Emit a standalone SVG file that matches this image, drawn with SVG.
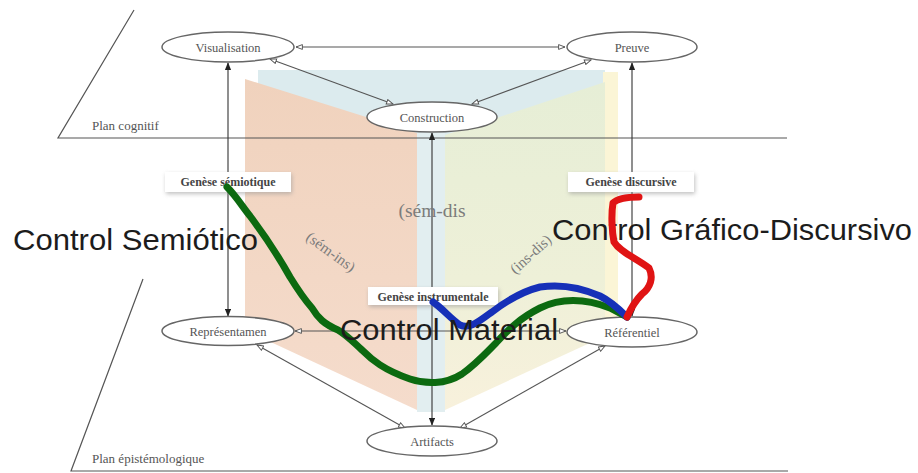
<svg xmlns="http://www.w3.org/2000/svg" width="918" height="473" viewBox="0 0 918 473">
  <defs>
    <marker id="open" viewBox="0 0 10 8" refX="9" refY="4" markerWidth="8" markerHeight="6.4" markerUnits="userSpaceOnUse" orient="auto-start-reverse">
      <path d="M1,1 L9,4 L1,7 Z" fill="#fff" stroke="#555" stroke-width="1.2"/>
    </marker>
    <marker id="solid" viewBox="0 0 10 8" refX="9" refY="4" markerWidth="8" markerHeight="6.4" markerUnits="userSpaceOnUse" orient="auto-start-reverse">
      <path d="M0,0 L10,4 L0,8 Z" fill="#222"/>
    </marker>
    <linearGradient id="greenPlane" x1="0" y1="0" x2="0" y2="1">
      <stop offset="0" stop-color="#e6eed6"/>
      <stop offset="0.6" stop-color="#eef0d8"/>
      <stop offset="1" stop-color="#f8f1dc"/>
    </linearGradient>
    <linearGradient id="peachPlane" x1="0" y1="0" x2="0" y2="1">
      <stop offset="0" stop-color="#f0d2bd"/>
      <stop offset="1" stop-color="#f5dccc"/>
    </linearGradient>
    <filter id="shadow" x="-20%" y="-40%" width="140%" height="180%">
      <feGaussianBlur stdDeviation="2"/>
    </filter>
    <style>
      .plane-line { stroke: #555; stroke-width: 1.2; fill: none; }
      .edge { stroke: #555; stroke-width: 1.1; fill: none; }
      .edge-open { marker-start: url(#open); marker-end: url(#open); }
      .edge-solid { marker-start: url(#solid); marker-end: url(#solid); stroke: #333; }
      .node ellipse { fill: #fff; stroke: #666; stroke-width: 1.5; }
      .node text { font-family: "Liberation Serif", serif; font-size: 12.5px; fill: #555; text-anchor: middle; }
      .plan { font-family: "Liberation Serif", serif; font-size: 13px; fill: #555; }
      .genese rect.box { fill: #fff; }
      .genese rect.shade { fill: #999; opacity: 0.6; filter: url(#shadow); }
      .genese text { font-family: "Liberation Serif", serif; font-size: 12px; font-weight: bold; fill: #444; text-anchor: middle; }
      .pair { font-family: "Liberation Serif", serif; fill: #7c7c7c; text-anchor: middle; }
      .control { font-family: "Liberation Sans", Arial, sans-serif; font-size: 29px; fill: #1c1c1c; }
      .stroke-path { fill: none; stroke-width: 7; stroke-linecap: round; stroke-linejoin: round; }
    </style>
  </defs>

  <rect width="918" height="473" fill="#fff"/>

  <!-- background planes -->
  <g id="planes">
    <rect x="258" y="70" width="347" height="72" fill="#dcebee"/>
    <rect x="417" y="130" width="28" height="282" fill="#e2eef0"/>
    <rect x="603" y="72" width="15" height="250" fill="#fbf5d6"/>
    <polygon points="245,79 417,133 417,410 245,330" fill="url(#peachPlane)"/>
    <polygon points="445,135 605,82 605,336 445,410" fill="url(#greenPlane)"/>
  </g>

  <!-- plane outlines -->
  <g id="plan-lines">
    <polyline class="plane-line" points="134,10 58,138 787,138"/>
    <polyline class="plane-line" points="143,279 71,471 788,471"/>
    <text class="plan" x="92" y="130">Plan cognitif</text>
    <text class="plan" x="92" y="463">Plan épistémologique</text>
  </g>

  <!-- connectors -->
  <g id="connectors">
    <line class="edge edge-open" x1="296" y1="47" x2="565" y2="47"/>
    <line class="edge edge-open" x1="270" y1="59" x2="393" y2="104"/>
    <line class="edge edge-open" x1="591" y1="60" x2="472" y2="104"/>
    <line class="edge edge-open" x1="295" y1="331" x2="566" y2="331"/>
    <line class="edge edge-open" x1="257" y1="345" x2="405" y2="428"/>
    <line class="edge edge-open" x1="605" y1="346" x2="460" y2="428"/>
    <line class="edge edge-solid" x1="228" y1="63" x2="228" y2="316"/>
    <line class="edge edge-solid" x1="632" y1="63" x2="632" y2="316"/>
    <line class="edge edge-solid" x1="432" y1="133" x2="432" y2="425"/>
  </g>

  <!-- nodes -->
  <g id="visualisation" class="node">
    <ellipse cx="228" cy="47" rx="66" ry="15"/>
    <text x="228" y="51.5">Visualisation</text>
  </g>
  <g id="preuve" class="node">
    <ellipse cx="632" cy="47" rx="65" ry="15"/>
    <text x="632" y="51.5">Preuve</text>
  </g>
  <g id="construction" class="node">
    <ellipse cx="432" cy="117" rx="65" ry="15"/>
    <text x="432" y="121.5">Construction</text>
  </g>
  <g id="representamen" class="node">
    <ellipse cx="228" cy="331" rx="66" ry="14.5"/>
    <text x="228" y="335.5">Représentamen</text>
  </g>
  <g id="referentiel" class="node">
    <ellipse cx="632" cy="332" rx="65" ry="15"/>
    <text x="632" y="336.5">Référentiel</text>
  </g>
  <g id="artifacts" class="node">
    <ellipse cx="432" cy="441" rx="65" ry="15"/>
    <text x="432" y="445.5">Artifacts</text>
  </g>

  <!-- genesis labels -->
  <g id="genese-semiotique" class="genese">
    <rect class="shade" x="166" y="174" width="126" height="20"/>
    <rect class="box" x="165" y="172" width="126" height="20"/>
    <text x="228" y="186">Genèse sémiotique</text>
  </g>
  <g id="genese-discursive" class="genese">
    <rect class="shade" x="569" y="174" width="126" height="20"/>
    <rect class="box" x="568" y="172" width="126" height="20"/>
    <text x="631" y="186">Genèse discursive</text>
  </g>
  <g id="genese-instrumentale" class="genese">
    <rect class="shade" x="369" y="289" width="130" height="18"/>
    <rect class="box" x="368" y="287" width="130" height="18"/>
    <text x="433" y="300.5">Genèse instrumentale</text>
  </g>

  <!-- plane pair labels -->
  <g id="pair-labels">
    <text class="pair" x="432" y="217" font-size="19.5">(sém-dis</text>
    <text class="pair" x="0" y="0" font-size="15" transform="translate(328,256) rotate(36)">(sém-ins)</text>
    <text class="pair" x="0" y="0" font-size="15" transform="translate(534,258) rotate(-42)">(ins-dis)</text>
  </g>

  <!-- control paths -->
  <g id="control-paths">
    <path class="stroke-path" stroke="#0c6a10" d="M227,187 C236,196 242,206 250,216 C262,232 276,252 290,277 C298,290 305,300 312,308 C318,318 324,324 338,330 C348,336 354,343 362,350 C372,360 384,370 410,379 C425,384 445,385 462,374 C476,364 484,355 496,343 C508,330 520,318 540,308 C560,298 585,298 610,308 L627,317"/>
    <path class="stroke-path" stroke="#1630b8" d="M433,302 C442,308 450,318 460,325 C470,330 480,320 492,312 C505,302 520,292 540,287 C560,284 582,288 600,296 C612,302 620,310 627,317"/>
  </g>

  <!-- control captions -->
  <g id="captions">
    <text class="control" x="13" y="250" textLength="245" lengthAdjust="spacingAndGlyphs">Control Semiótico</text>
    <text class="control" x="340" y="340" textLength="218" lengthAdjust="spacingAndGlyphs">Control Material</text>
    <text class="control" x="552" y="240" textLength="360" lengthAdjust="spacingAndGlyphs">Control Gráfico-Discursivo</text>
  </g>

  <g id="discursive-path">
    <path class="stroke-path" stroke="#e01414" d="M639,197 C630,197 618,198 613,203 C611,215 612,232 614,242 C620,252 636,258 649,268 C654,278 650,288 642,294 C636,300 631,308 627,317"/>
  </g>
</svg>
